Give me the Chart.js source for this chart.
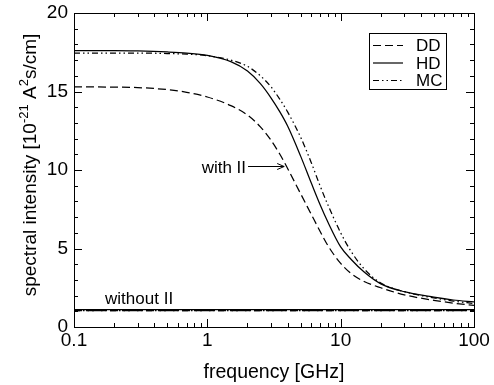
<!DOCTYPE html>
<html><head><meta charset="utf-8">
<script src="https://cdn.jsdelivr.net/npm/chart.js@4/dist/chart.umd.min.js"></script>
<style>html,body{margin:0;padding:0;background:#fff;}#wrap{width:494px;height:385px;}</style>
</head><body><div id="wrap"><canvas id="c" width="494" height="385"></canvas></div>
<script>
// ---- data ----
const freq        = [0.1, 0.2, 0.3, 0.5, 0.7, 1, 1.5, 2, 2.5, 3, 3.5, 4, 5, 6, 7, 8, 10, 12, 15, 20, 30, 50, 70, 100];
const ddWithII    = [15.3, 15.28, 15.25, 15.12, 14.95, 14.65, 14.1, 13.5, 12.75, 11.9, 11.0, 10.1, 8.5, 7.2, 6.1, 5.2, 4.05, 3.4, 2.9, 2.5, 2.05, 1.7, 1.52, 1.38];
const hdWithII    = [17.6, 17.6, 17.58, 17.52, 17.45, 17.3, 16.9, 16.3, 15.5, 14.6, 13.7, 12.8, 10.9, 9.2, 7.8, 6.7, 5.1, 4.3, 3.5, 2.75, 2.25, 1.9, 1.72, 1.6];
const mcWithII    = [17.45, 17.45, 17.45, 17.42, 17.38, 17.28, 17.0, 16.6, 16.0, 15.3, 14.5, 13.7, 12.1, 10.5, 9.0, 7.8, 6.0, 4.8, 3.7, 2.8, 2.25, 1.85, 1.65, 1.5];
const ddWithoutII = [1.05, 1.05, 1.05, 1.05, 1.05, 1.05, 1.05, 1.05, 1.05, 1.05, 1.05, 1.05, 1.05, 1.05, 1.05, 1.05, 1.05, 1.05, 1.05, 1.05, 1.05, 1.05, 1.05, 1.05];
const hdWithoutII = [1.1, 1.1, 1.1, 1.1, 1.1, 1.1, 1.1, 1.1, 1.1, 1.1, 1.1, 1.1, 1.1, 1.1, 1.1, 1.1, 1.1, 1.1, 1.1, 1.1, 1.1, 1.1, 1.1, 1.1];
const mcWithoutII = [1.05, 1.05, 1.05, 1.05, 1.05, 1.05, 1.05, 1.05, 1.05, 1.05, 1.05, 1.05, 1.05, 1.05, 1.05, 1.05, 1.05, 1.05, 1.05, 1.05, 1.05, 1.05, 1.05, 1.05];
const seriesNames = ['DD', 'HD', 'MC'];
const xTickValues = [0.1, 1, 10, 100];
const yTickValues = [0, 5, 10, 15, 20];
const xTitle = 'frequency [GHz]';
const withLabel = 'with II';
const withoutLabel = 'without II';

// ---- styles ----
const FONT = '"Liberation Sans", Arial, Helvetica, sans-serif';
const dashes = { DD: [8, 4], HD: [], MC: [6, 3, 1.5, 3, 1.5, 3] };
const pts = arr => freq.map((f, i) => ({ x: f, y: arr[i] }));
function ds(name, arr, legend) {
  return { label: name, data: pts(arr), borderColor: '#000', borderWidth: 1.25,
    borderDash: dashes[name], pointRadius: 0, fill: false,
    cubicInterpolationMode: 'monotone', inLegend: legend };
}
const datasets = [
  ds(seriesNames[0], ddWithII, true),
  ds(seriesNames[1], hdWithII, true),
  ds(seriesNames[2], mcWithII, true),
  ds(seriesNames[0], ddWithoutII, false),
  ds(seriesNames[1], hdWithoutII, false),
  ds(seriesNames[2], mcWithoutII, false)
];

const deco = {
  id: 'deco',
  afterDraw(chart) {
    const ctx = chart.ctx, a = chart.chartArea, xs = chart.scales.x, ys = chart.scales.y;
    ctx.save();
    ctx.strokeStyle = '#000'; ctx.fillStyle = '#000'; ctx.lineWidth = 1; ctx.setLineDash([]);
    // frame
    ctx.strokeRect(a.left + 0.5, a.top + 0.5, a.right - a.left, a.bottom - a.top);
    // y ticks (inward, both sides)
    ctx.beginPath();
    for (let v = 0; v <= 20; v++) {
      const y = Math.round(ys.getPixelForValue(v)) + 0.5;
      const len = v % 5 === 0 ? 8 : 4;
      ctx.moveTo(a.left, y); ctx.lineTo(a.left + len, y);
      ctx.moveTo(a.right, y); ctx.lineTo(a.right - len, y);
    }
    // x ticks (inward, bottom and top)
    for (let d = -1; d <= 2; d++) {
      for (let k = 1; k <= 9; k++) {
        const v = k * Math.pow(10, d);
        if (v > 100.0001) break;
        const x = Math.round(xs.getPixelForValue(v)) + 0.5;
        const len = k === 1 ? 8 : 4;
        ctx.moveTo(x, a.bottom); ctx.lineTo(x, a.bottom - len);
        ctx.moveTo(x, a.top); ctx.lineTo(x, a.top + len);
      }
    }
    ctx.stroke();

    // legend
    const lx = 369, ly = 33, lw = 77, lh = 56;
    ctx.strokeRect(lx + 0.5, ly + 0.5, lw, lh);
    ctx.font = '17px ' + FONT; ctx.textBaseline = 'middle'; ctx.textAlign = 'left';
    const legendSets = chart.data.datasets.filter(d => d.inLegend);
    legendSets.forEach((d, i) => {
      const yy = ly + 12.5 + i * 17.5;
      ctx.lineWidth = 1.2; ctx.setLineDash(d.borderDash || []);
      ctx.beginPath(); ctx.moveTo(lx + 4, yy); ctx.lineTo(lx + 34, yy); ctx.stroke();
      ctx.setLineDash([]);
      ctx.fillText(d.label, lx + 47, yy + 1);
    });

    // annotation: with II + arrow
    ctx.lineWidth = 1; ctx.setLineDash([]);
    const ax0 = xs.getPixelForValue(2.02), ax1 = xs.getPixelForValue(3.77), ay = Math.round(ys.getPixelForValue(10.25)) + 0.5;
    ctx.font = '17px ' + FONT; ctx.textAlign = 'right'; ctx.textBaseline = 'alphabetic';
    ctx.fillText(withLabel, ax0 - 2, ay + 6);
    ctx.beginPath();
    ctx.moveTo(ax0, ay); ctx.lineTo(ax1, ay);
    ctx.moveTo(ax1 - 7, ay - 3); ctx.lineTo(ax1, ay); ctx.lineTo(ax1 - 7, ay + 3);
    ctx.stroke();
    // annotation: without II
    ctx.textAlign = 'left';
    ctx.fillText(withoutLabel, xs.getPixelForValue(0.171), ys.getPixelForValue(1.45));

    // x title
    ctx.font = '19.5px ' + FONT; ctx.textAlign = 'center'; ctx.textBaseline = 'alphabetic';
    ctx.fillText(xTitle, (a.left + a.right) / 2, 378);

    // y title with superscripts
    const big = '19px ' + FONT, small = '13px ' + FONT;
    const parts = [
      ['spectral intensity [10', big, 0],
      ['-21', small, -8],
      [' A', big, 0],
      ['2', small, -8],
      ['s/cm]', big, 0]
    ];
    let total = 0;
    parts.forEach(p => { ctx.font = p[1]; total += ctx.measureText(p[0]).width; });
    ctx.translate(36, 165);
    ctx.rotate(-Math.PI / 2);
    ctx.textAlign = 'left';
    let u = -total / 2;
    parts.forEach(p => { ctx.font = p[1]; ctx.fillText(p[0], u, p[2]); u += ctx.measureText(p[0]).width; });
    ctx.restore();
  }
};

new Chart(document.getElementById('c'), {
  type: 'line',
  data: { datasets },
  options: {
    responsive: false, animation: false, devicePixelRatio: 1,
    layout: { padding: { top: 13, right: 20, left: 0, bottom: 0 } },
    plugins: { legend: { display: false }, tooltip: { enabled: false } },
    scales: {
      x: {
        type: 'logarithmic', min: 0.1, max: 100,
        grid: { display: false, drawTicks: false }, border: { display: false },
        ticks: { color: '#000', font: { family: FONT, size: 19 }, padding: 2, maxRotation: 0, autoSkip: false,
          callback: v => String(v) },
        afterBuildTicks: s => { s.ticks = xTickValues.map(v => ({ value: v })); },
        afterFit: s => { s.height = 58; s.paddingLeft = 0; s.paddingRight = 0; }
      },
      y: {
        type: 'linear', min: 0, max: 20,
        grid: { display: false, drawTicks: false }, border: { display: false },
        ticks: { color: '#000', font: { family: FONT, size: 19 }, padding: 6 },
        afterBuildTicks: s => { s.ticks = yTickValues.map(v => ({ value: v })); },
        afterFit: s => { s.width = 74; s.paddingTop = 0; s.paddingBottom = 0; }
      }
    }
  },
  plugins: [deco]
});
</script></body></html>
